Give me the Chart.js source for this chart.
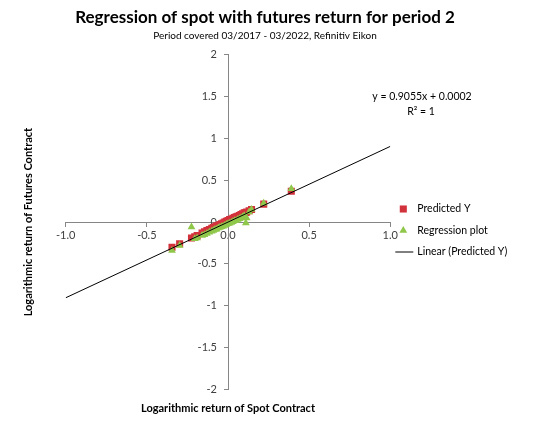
<!DOCTYPE html>
<html>
<head>
<meta charset="utf-8">
<script src="https://cdn.jsdelivr.net/npm/chart.js@4.4.1/dist/chart.umd.min.js"></script>
<style>
  html, body { margin: 0; padding: 0; background: #fff; }
  #wrap { width: 534px; height: 426px; }
</style>
</head>
<body>
<div id="wrap"><canvas id="regression-chart"></canvas></div>
<script>
// Spot return (x) with predicted and actual futures return (y)
const spotReturn = [-0.345, -0.298, -0.225, -0.205, -0.19, -0.16, -0.145, -0.13, -0.115, -0.10,
    -0.09, -0.08, -0.07, -0.06, -0.05, -0.04, -0.03, -0.02, -0.01, 0.0,
    0.01, 0.02, 0.03, 0.04, 0.05, 0.06, 0.07, 0.08, 0.09, 0.10,
    0.11, 0.115, 0.13, 0.145, 0.22, 0.39];
const predictedY = [-0.30, -0.26, -0.19, -0.175, -0.16, -0.13, -0.115, -0.10, -0.09, -0.075,
    -0.065, -0.055, -0.045, -0.04, -0.03, -0.02, -0.01, 0.0, 0.01, 0.02,
    0.03, 0.035, 0.045, 0.055, 0.065, 0.07, 0.08, 0.09, 0.10, 0.11,
    0.115, 0.12, 0.135, 0.15, 0.215, 0.37];
const futuresReturn = [-0.34, -0.28, -0.06, -0.20, -0.19, -0.16, -0.15, -0.135, -0.12, -0.11,
    -0.10, -0.09, -0.085, -0.07, -0.065, -0.055, -0.05, -0.04, -0.03, -0.02,
    -0.015, -0.005, 0.005, 0.015, 0.02, 0.03, 0.04, 0.05, 0.06, 0.075,
    -0.01, 0.05, 0.12, 0.15, 0.225, 0.40];

// Linear trendline end points (from the fitted equation)
const trendX = [-1.0, 1.0];
const trendY = [-0.9053, 0.9057];

const xTicks = [-1.0, -0.5, 0.0, 0.5, 1.0];
const yTicks = [-2, -1.5, -1, -0.5, 0, 0.5, 1, 1.5, 2];

const equationLines = ["y = 0.9055x + 0.0002", "R² = 1"];

const FONT = "Lato, Calibri, Carlito, sans-serif";

const toPoints = (xs, ys) => xs.map((x, i) => ({ x: x, y: ys[i] }));

// draws the trendline equation like excel does
const equationPlugin = {
    id: 'equation',
    afterDraw(chart) {
        const { ctx } = chart;
        ctx.save();
        ctx.fillStyle = '#000';
        ctx.font = '10.5px ' + FONT;
        ctx.textAlign = 'center';
        ctx.textBaseline = 'middle';
        ctx.fillText(equationLines[0], 422, 97);
        ctx.fillText(equationLines[1], 421, 112);
        ctx.restore();
    }
};

// legend on the right side, excel style (built in one wont fit the space)
const sideLegendPlugin = {
    id: 'sideLegend',
    afterDraw(chart) {
        const { ctx, chartArea } = chart;
        const x = chartArea.right + 13;
        ctx.save();
        ctx.font = '10.5px ' + FONT;
        ctx.textBaseline = 'middle';
        ctx.textAlign = 'left';
        chart.data.datasets.forEach((ds, i) => {
            const y = 209 + i * 21.5;
            ctx.fillStyle = ds.backgroundColor;
            ctx.strokeStyle = ds.borderColor;
            if (ds.pointStyle === 'line') {
                ctx.lineWidth = 1;
                ctx.beginPath();
                ctx.moveTo(x - 8, y);
                ctx.lineTo(x + 10, y);
                ctx.stroke();
            } else {
                Chart.helpers.drawPoint(ctx, {
                    pointStyle: ds.pointStyle,
                    radius: ds.pointRadius,
                    borderWidth: 0,
                    rotation: 0
                }, x, y);
            }
            ctx.fillStyle = '#000';
            ctx.fillText(ds.label, x + 14, y);
        });
        ctx.restore();
    }
};

const axisGray = '#868686';
const tickText = '#404040';

const ctx = document.getElementById('regression-chart').getContext('2d');

new Chart(ctx, {
    type: 'scatter',
    data: {
        datasets: [{
            label: 'Predicted Y',
            data: toPoints(spotReturn, predictedY),
            pointStyle: 'rect',
            pointRadius: 5,
            backgroundColor: '#D2323C',
            borderColor: '#D2323C',
            borderWidth: 0,
            order: 2
        }, {
            label: 'Regression plot',
            data: toPoints(spotReturn, futuresReturn),
            pointStyle: 'triangle',
            pointRadius: 4.5,
            backgroundColor: '#8FC74A',
            borderColor: '#8FC74A',
            borderWidth: 0,
            order: 1
        }, {
            type: 'line',
            label: 'Linear (Predicted Y)',
            data: toPoints(trendX, trendY),
            borderColor: '#000',
            backgroundColor: '#000',
            borderWidth: 1,
            pointRadius: 0,
            pointStyle: 'line',
            fill: false,
            order: 0
        }]
    },
    options: {
        responsive: true,
        maintainAspectRatio: false,
        animation: false,
        layout: {
            padding: { left: 0, right: 4, top: 0, bottom: 0 }
        },
        scales: {
            x: {
                type: 'linear',
                position: { y: 0 },
                min: -1,
                max: 1,
                afterBuildTicks: (axis) => { axis.ticks = xTicks.map(v => ({ value: v })); },
                ticks: {
                    color: tickText,
                    font: { family: FONT, size: 11 },
                    padding: 3,
                    callback: (v) => Number(v).toFixed(1)
                },
                grid: {
                    drawOnChartArea: false,
                    drawTicks: true,
                    tickLength: 4,
                    color: axisGray
                },
                border: { color: axisGray }
            },
            y: {
                type: 'linear',
                position: { x: 0 },
                min: -2,
                max: 2,
                afterBuildTicks: (axis) => { axis.ticks = yTicks.map(v => ({ value: v })); },
                ticks: {
                    color: tickText,
                    font: { family: FONT, size: 11 },
                    // positioned axis ignores padding here, so keep a gap with en spaces
                    callback: (v) => String(v) + '\u2002\u2002'
                },
                grid: {
                    drawOnChartArea: false,
                    drawTicks: true,
                    tickLength: 4,
                    color: axisGray
                },
                border: { color: axisGray }
            },
            // empty axes that only carry the axis titles / reserve space at the edges
            xTitle: {
                type: 'linear',
                position: 'bottom',
                ticks: { display: false },
                grid: { display: false },
                border: { display: false },
                afterFit: (scale) => { scale.height = 36.7; },
                title: {
                    display: true,
                    text: 'Logarithmic return of Spot Contract',
                    color: '#000',
                    font: { family: FONT, size: 11, weight: 'bold' },
                    padding: { top: 4, bottom: 11.4 }
                }
            },
            yTitle: {
                type: 'linear',
                position: 'left',
                ticks: { display: false },
                grid: { display: false },
                border: { display: false },
                afterFit: (scale) => { scale.width = 65.7; },
                title: {
                    display: true,
                    text: 'Logarithmic return of Futures Contract',
                    color: '#000',
                    font: { family: FONT, size: 11, weight: 'bold' },
                    padding: { top: 21.4, bottom: 4 }
                }
            },
            legendSpace: {
                type: 'linear',
                position: 'right',
                ticks: { display: false },
                grid: { display: false },
                border: { display: false },
                afterFit: (scale) => { scale.width = 139.7; }
            }
        },
        plugins: {
            title: {
                display: true,
                text: 'Regression of spot with futures return for period 2',
                color: '#000',
                font: { family: FONT, size: 17, weight: 'bold' },
                padding: { top: 7, bottom: 0 }
            },
            subtitle: {
                display: true,
                text: 'Period covered 03/2017 - 03/2022, Refinitiv Eikon',
                color: '#000',
                font: { family: FONT, size: 10 },
                padding: { top: 2.5, bottom: 13 }
            },
            legend: { display: false },
            tooltip: { enabled: false }
        }
    },
    plugins: [equationPlugin, sideLegendPlugin]
});
</script>
</body>
</html>
